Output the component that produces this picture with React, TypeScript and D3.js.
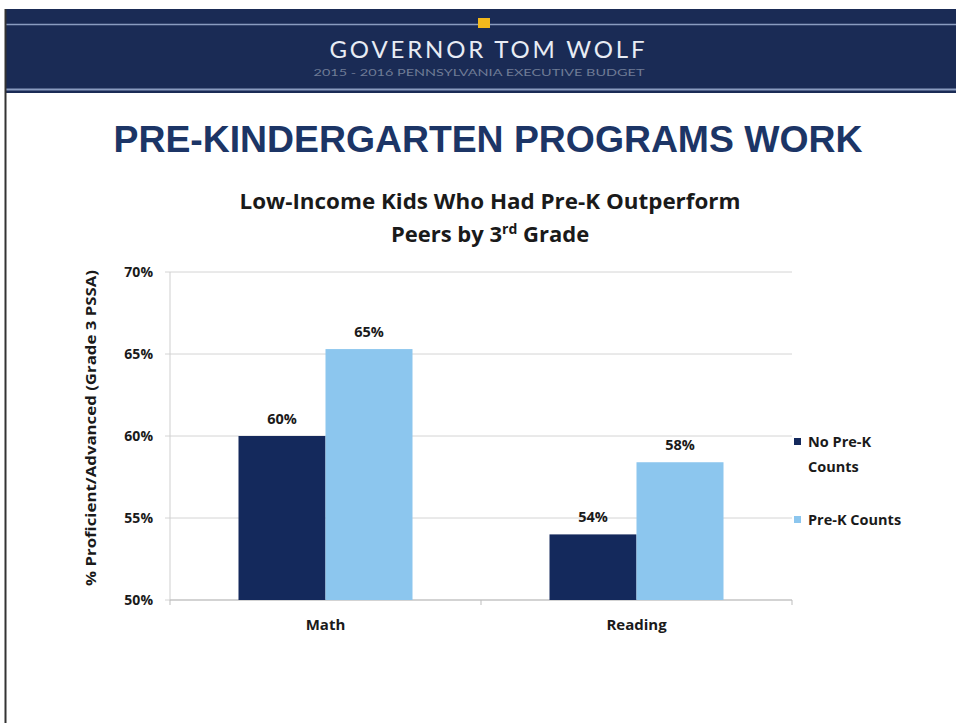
import React from "react";
import * as d3 from "d3";

const categories = ["Math", "Reading"];
const seriesNames = ["No Pre-K Counts", "Pre-K Counts"];
const noPreK = [60.0, 54.0];
const preK = [65.3, 58.4];
const valueLabels = [["60%", "54%"], ["65%", "58%"]];
const yTicks = [50, 55, 60, 65, 70];

const W = 956;
const H = 723;
const DARK = "#14295c";
const LIGHT = "#8cc6ee";
const FONT = "'Open Sans', Lato, sans-serif";
const INK = "#1a1a1a";

export default function App() {
  const left = 170, right = 792, top = 272, bottom = 600;
  const y = d3.scaleLinear().domain([50, 70]).range([bottom, top]);
  const x0 = d3.scaleBand<string>().domain(categories).range([left, right]);
  const inner = d3.scaleBand<number>().domain([0, 1]).range([0, 174]);
  const series = [noPreK, preK];
  const colors = [DARK, LIGHT];

  return (
    <svg width={W} height={H} style={{ position: "absolute", left: 0, top: 0, background: "#fff" }}>
      {/* header band */}
      <rect x={5} y={9} width={W - 5} height={84} fill="#1a2b55" />
      <line x1={5} x2={W} y1={24.5} y2={24.5} stroke="#8a9cc0" strokeWidth={1.5} />
      <line x1={5} x2={W} y1={89.5} y2={89.5} stroke="#8a9cc0" strokeWidth={2} />
      <rect x={478} y={18} width={12} height={10} fill="#f2b81c" />
      <text x={487} y={58} textAnchor="middle" fill="#e8ecf4" fontFamily="Lato, sans-serif" fontSize={24}
        textLength={315} lengthAdjust="spacing">
        GOVERNOR TOM WOLF
      </text>
      <text x={479} y={76} textAnchor="middle" fill="#6f7b96" fontFamily="Lato, sans-serif" fontSize={9}
        textLength={331} lengthAdjust="spacingAndGlyphs">
        2015 - 2016 PENNSYLVANIA EXECUTIVE BUDGET
      </text>
      {/* left border */}
      <line x1={5.5} x2={5.5} y1={9} y2={H} stroke="#333" strokeWidth={2} />

      {/* main title */}
      <text x={488} y={152} textAnchor="middle" fill="#1c3566" fontFamily="'Liberation Sans', Arial, sans-serif"
        fontWeight="bold" fontSize={37} textLength={749} lengthAdjust="spacingAndGlyphs">
        PRE-KINDERGARTEN PROGRAMS WORK
      </text>

      {/* chart title */}
      <text x={490} y={209} textAnchor="middle" fill={INK} fontFamily={FONT} fontWeight="bold" fontSize={21}
        textLength={501} lengthAdjust="spacingAndGlyphs">
        Low-Income Kids Who Had Pre-K Outperform
      </text>
      <text x={490} y={242} textAnchor="middle" fill={INK} fontFamily={FONT} fontWeight="bold" fontSize={22}>
        Peers by 3<tspan fontSize={14} dy={-8}>rd</tspan><tspan dy={8}> Grade</tspan>
      </text>

      {/* gridlines */}
      {yTicks.map((t) => (
        <g key={t}>
          <line x1={left - 5} x2={right} y1={y(t)} y2={y(t)} stroke="#d4d4d4" strokeWidth={1} />
          <text x={153} y={y(t) + 5} textAnchor="end" fontFamily={FONT} fontWeight="bold" fontSize={14} fill={INK}>
            {t}%
          </text>
        </g>
      ))}
      <line x1={left} x2={left} y1={top} y2={bottom} stroke="#cfcfcf" />
      <line x1={left} x2={right} y1={bottom} y2={bottom} stroke="#bdbdbd" />
      {[left, left + x0.bandwidth(), right].map((tx, i) => (
        <line key={i} x1={tx} x2={tx} y1={bottom} y2={bottom + 5} stroke="#bdbdbd" />
      ))}

      {/* bars */}
      {categories.map((c, ci) => {
        const gx = (x0(c) as number) + x0.bandwidth() / 2 - 87;
        return (
          <g key={c}>
            {series.map((s, si) => {
              const bx = gx + (inner(si) as number);
              return (
                <g key={si}>
                  <rect x={bx} y={y(s[ci])} width={inner.bandwidth()} height={bottom - y(s[ci])} fill={colors[si]} />
                  <text x={bx + inner.bandwidth() / 2} y={y(s[ci]) - 12} textAnchor="middle" fontFamily={FONT}
                    fontWeight="bold" fontSize={14.5} fill={INK}>
                    {valueLabels[si][ci]}
                  </text>
                </g>
              );
            })}
            <text x={(x0(c) as number) + x0.bandwidth() / 2} y={630} textAnchor="middle" fontFamily={FONT}
              fontWeight="bold" fontSize={15} fill={INK}>
              {c}
            </text>
          </g>
        );
      })}

      {/* y axis title */}
      <text transform="translate(96,428) rotate(-90)" textAnchor="middle" fontFamily={FONT} fontWeight="bold"
        fontSize={15} fill={INK} textLength={316} lengthAdjust="spacingAndGlyphs">
        % Proficient/Advanced (Grade 3 PSSA)
      </text>

      {/* legend */}
      <rect x={794} y={438} width={7} height={7} fill={DARK} />
      <text x={808} y={447} fontFamily={FONT} fontWeight="bold" fontSize={14.5} fill={INK}>No Pre-K</text>
      <text x={808} y={472} fontFamily={FONT} fontWeight="bold" fontSize={14.5} fill={INK}>Counts</text>
      <rect x={794} y={516} width={7} height={7} fill={LIGHT} />
      <text x={808} y={525} fontFamily={FONT} fontWeight="bold" fontSize={14.5} fill={INK}>{seriesNames[1]}</text>
    </svg>
  );
}
